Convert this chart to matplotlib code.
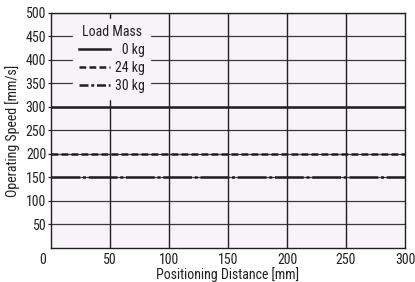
import matplotlib
matplotlib.use('Agg')
import matplotlib.pyplot as plt
import matplotlib.font_manager as fm
import matplotlib.transforms as mtransforms

names = {f.name for f in fm.fontManager.ttflist}
font = next((n for n in ['Roboto Condensed', 'Archivo Narrow', 'Barlow Semi Condensed']
             if n in names), 'DejaVu Sans')
plt.rcParams['font.family'] = [font, 'DejaVu Sans']

# data
distance = [0, 300]
speed_0kg = [300, 300]
speed_24kg = [200, 200]
speed_30kg = [150, 150]
labels = ['\u20070 kg', '24 kg', '30 kg']
xticks = [0, 50, 100, 150, 200, 250, 300]
yticks = [50, 100, 150, 200, 250, 300, 350, 400, 450, 500]

bg = '#f7f3f9'
ink = '#231f20'
fs = 10
fig = plt.figure(figsize=(4.15, 2.82), dpi=100)
ax = fig.add_axes([0.123, 0.121, 0.853, 0.833])
ax.set_facecolor(bg)

for y in yticks:
    ax.axhline(y, color='#3a3a3a', lw=0.9, zorder=1)
for x in xticks[1:-1]:
    ax.axvline(x, color=ink, lw=1.0, zorder=1)

ax.plot(distance, speed_0kg, color=ink, lw=1.8, ls='-', label=labels[0], zorder=3)
ax.plot(distance, speed_24kg, color=ink, lw=1.8, ls=(0, (2.7, 1.3)), label=labels[1], zorder=3)
ax.plot(distance, speed_30kg, color=ink, lw=1.8, ls=(0, (11.5, 1.1, 1.2, 1.1)), label=labels[2], zorder=3)

ax.set_xlim(0, 300)
ax.set_ylim(0, 500)
ax.set_xticks(xticks)
ax.set_yticks(yticks)
ax.tick_params(axis='x', length=0, labelsize=fs, pad=4, colors=ink)
ax.tick_params(axis='y', length=2.5, width=0.9, labelsize=fs, pad=1, colors=ink)
for s in ax.spines.values():
    s.set_color(ink)
    s.set_linewidth(1.0)

# shift the "0" x label away from the y axis
xlabels = ax.get_xticklabels()
xlabels[0].set_transform(xlabels[0].get_transform() +
                         mtransforms.ScaledTranslation(-8 / 100, 0, fig.dpi_scale_trans))

ax.set_xlabel('Positioning Distance [mm]', fontsize=fs, labelpad=0, color=ink)
ax.set_ylabel('Operating Speed [mm/s]', fontsize=fs, labelpad=4, color=ink)

leg = ax.legend(title='Load Mass', loc='upper left', bbox_to_anchor=(0.062, 0.974),
                frameon=True, facecolor=bg, edgecolor=bg, framealpha=1, fancybox=False,
                fontsize=fs, title_fontsize=fs, handlelength=2.3, handletextpad=0.3,
                labelspacing=0.3, borderpad=0.4, borderaxespad=0)
for t in leg.get_texts():
    t.set_color(ink)
leg.get_title().set_color(ink)
# shorter dash-dot so the pattern shows in the small legend handle
leg.get_lines()[2].set_linestyle((0, (3.6, 1.1, 1.2, 1.1)))
leg.set_zorder(4)

fig.savefig('out.png', dpi=100, facecolor='white')
